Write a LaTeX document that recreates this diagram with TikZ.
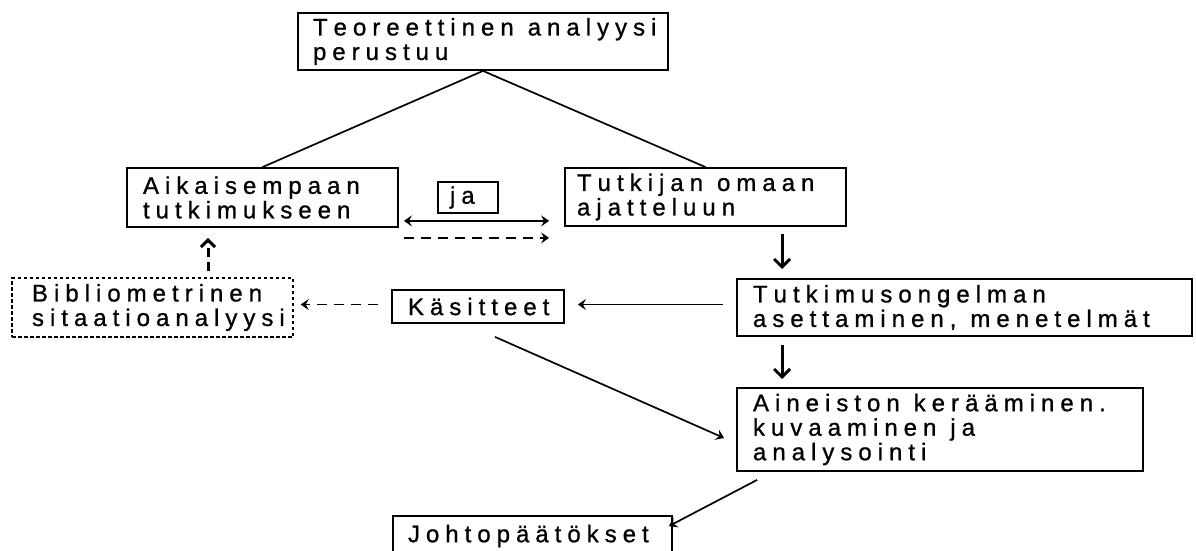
\documentclass[tikz,border=0pt]{standalone}
\usepackage{fontspec}
\newfontfamily\chartfont{Liberation Sans}[FakeBold=0.9]
\usetikzlibrary{arrows.meta,calc}
% wide tracking between letters, as in the printed chart
\XeTeXinterchartokenstate=1
\XeTeXinterchartoks 0 0 = {\kern6pt\relax}
\begin{document}
\begin{tikzpicture}[x=1pt,y=-1pt,
  font=\chartfont\fontsize{24}{24.5}\selectfont,
  tbox/.style n args={3}{draw=black, line width=1.8pt, inner sep=0pt,
    minimum width=#1, minimum height=#2, text width=#1, align=left,
    execute at begin node={\leftskip=#3\relax\rightskip=-40pt plus 1fil\relax\spaceskip=14pt\relax}},
  dbox/.style={dash pattern=on 3.5pt off 2.5pt, line width=1.5pt},
  link/.style={line width=1.7pt},
  arr/.style={line width=1.7pt, -{Stealth[length=8pt,width=11pt,inset=3pt]}},
  bigarr/.style={line width=3pt, -{Straight Barb[length=8pt,width=16pt]}},
  dbl/.style={line width=2pt, {Stealth[length=8pt,width=11pt,inset=3pt]}-{Stealth[length=8pt,width=11pt,inset=3pt]}},
  dasharr/.style={line width=1.7pt, dash pattern=on 10pt off 7pt, -{Stealth[length=8pt,width=11pt,inset=3pt]}},
  dashup/.style={line width=3pt, dash pattern=on 9pt off 5pt, -{Straight Barb[length=7pt,width=14pt]}}
]
\clip (0,0) rectangle (1196,550);
\fill[white] (0,0) rectangle (1196,550);

% boxes
\node[tbox={370pt}{57pt}{15pt}] (top) at (483,41.5) {Teoreettinen analyysi\\perustuu};
\node[tbox={271pt}{59pt}{16pt}] (aik) at (262.5,197.5) {Aikaisempaan\\tutkimukseen};
\node[tbox={281pt}{58pt}{12pt}] (tut) at (705.5,197) {Tutkijan omaan\\ajatteluun};
\node[tbox={60pt}{31pt}{12pt}] (ja) at (468,197.5) {ja};
\node[tbox={281pt}{59pt}{20pt}, dbox] (bib) at (152.5,307.5) {Bibliometrinen\\sitaatioanalyysi};
\node[tbox={172pt}{33pt}{16pt}] (kas) at (478,306.5) {Käsitteet};
\node[tbox={455pt}{57pt}{16pt}] (tmo) at (964.5,307.5) {Tutkimusongelman\\asettaminen, menetelmät};
\node[tbox={406pt}{83pt}{16pt}] (ain) at (940,429.5) {Aineiston kerääminen.\\kuvaaminen ja\\analysointi};
\node[tbox={279pt}{40pt}{15pt}] (joh) at (532.5,536) {Johtopäätökset};

% branches from the top box
\draw[link] (top.south) -- (aik.north);
\draw[link] (top.south) -- (tut.north);

% two-way links between the upper boxes
\coordinate (da) at ($(aik.south east)+(5pt,7pt)$);
\draw[dbl] (da) -- ($(da -| tut.west)+(-15pt,0pt)$);
\coordinate (db) at ($(aik.south east)+(5pt,-10pt)$);
\draw[dasharr] (db) -- ($(db -| tut.west)+(-15pt,0pt)$);

% citation analysis feeding earlier research
\coordinate (bu) at ($(bib.north)+(55.5pt,6pt)$);
\draw[dashup] (bu) -- ($(bu |- aik.south)+(0pt,-10pt)$);

% concepts
\draw[dasharr] ($(kas.west)+(-13pt,2pt)$) -- ($(kas.west -| bib.east)+(7pt,2pt)$);
\draw[arr] ($(kas.east -| tmo.west)+(-13pt,2pt)$) -- ($(kas.east)+(13pt,2pt)$);

% main flow on the right
\coordinate (c1) at ($(tmo.north west)+(46pt,0pt)$);
\draw[bigarr] ($(c1 |- tut.south)+(0pt,-7pt)$) -- ($(c1)+(0pt,9pt)$);
\coordinate (c2) at ($(ain.north west)+(46pt,0pt)$);
\draw[bigarr] ($(c2 |- tmo.south)+(0pt,-8pt)$) -- ($(c2)+(0pt,8pt)$);

\draw[arr] ($(kas.south)+(17pt,-13pt)$) -- ($(ain.west)+(-12pt,-8.5pt)$);
\draw[arr] ($(ain.south west)+(21pt,-8pt)$) -- ($(joh.north east)+(-4pt,-11pt)$);
\end{tikzpicture}
\end{document}
